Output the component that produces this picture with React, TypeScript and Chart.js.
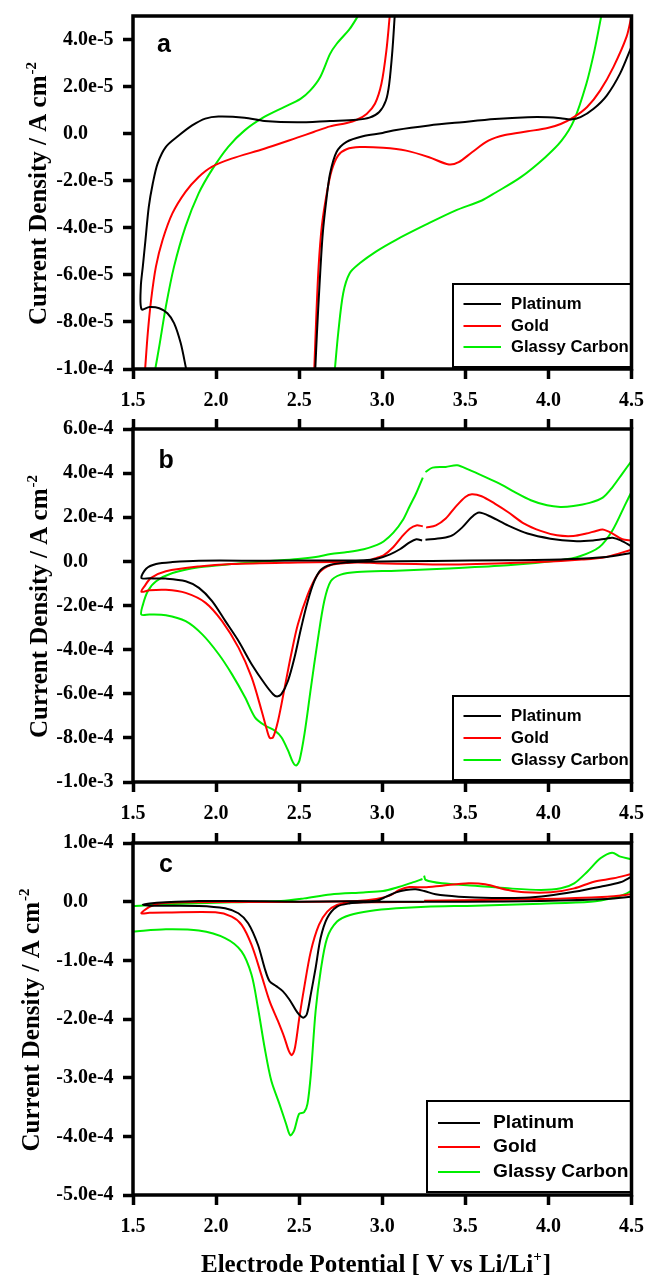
import React, { useEffect, useRef } from 'react';
import { Chart, registerables } from 'chart.js';

Chart.register(...registerables);

// ---------- shared ----------
const SERIES_NAMES = ['Platinum', 'Gold', 'Glassy Carbon'];
const SERIES_COLORS = ['#000000', '#ff0000', '#00ee00'];

const X_TICKS = [1.5, 2.0, 2.5, 3.0, 3.5, 4.0, 4.5];

const Y_TICKS_A = [-1e-4, -8e-5, -6e-5, -4e-5, -2e-5, 0, 2e-5, 4e-5];
const Y_LABELS_A = ['-1.0e-4', '-8.0e-5', '-6.0e-5', '-4.0e-5', '-2.0e-5', '0.0', '2.0e-5', '4.0e-5'];
const Y_TICKS_B = [-1e-3, -8e-4, -6e-4, -4e-4, -2e-4, 0, 2e-4, 4e-4, 6e-4];
const Y_LABELS_B = ['-1.0e-3', '-8.0e-4', '-6.0e-4', '-4.0e-4', '-2.0e-4', '0.0', '2.0e-4', '4.0e-4', '6.0e-4'];
const Y_TICKS_C = [-5e-4, -4e-4, -3e-4, -2e-4, -1e-4, 0, 1e-4];
const Y_LABELS_C = ['-5.0e-4', '-4.0e-4', '-3.0e-4', '-2.0e-4', '-1.0e-4', '0.0', '1.0e-4'];

// ---------- panel a (current in 1e-5 A cm^-2; null = break in trace) ----------
const A_PT_V = [3.075, 3.061, 3.042, 3.022, 2.982, 2.923, 2.844, 2.686, 2.488, 2.29, 2.172, 2.014, 1.935, 1.856, 1.777, 1.698, 1.648, 1.619, 1.595, 1.575, 1.559, 1.547, 1.551, 1.599, 1.658, 1.707, 1.747, 1.787, 1.82, null, 2.597, 2.607, 2.623, 2.642, 2.666, 2.686, 2.725, 2.785, 2.883, 3.002, 3.084, 3.282, 3.48, 3.678, 3.876, 3.995, 4.074, 4.134, 4.193, 4.272, 4.351, 4.431, 4.5];
const A_PT_J = [5.0, 3.53, 2.12, 1.41, 0.92, 0.68, 0.59, 0.54, 0.48, 0.54, 0.68, 0.73, 0.64, 0.35, -0.07, -0.56, -1.27, -2.12, -3.11, -4.52, -5.65, -6.5, -7.46, -7.37, -7.42, -7.63, -8.05, -8.9, -10.0, null, -10.0, -8.47, -6.36, -4.24, -2.68, -1.69, -0.78, -0.35, -0.11, 0.03, 0.16, 0.35, 0.49, 0.62, 0.7, 0.7, 0.66, 0.6, 0.7, 1.06, 1.62, 2.55, 3.7];

const A_AU_V = [3.045, 3.025, 2.995, 2.956, 2.906, 2.847, 2.787, 2.686, 2.587, 2.488, 2.29, 2.093, 1.974, 1.895, 1.816, 1.737, 1.678, 1.638, 1.609, 1.589, 1.573, null, 2.591, 2.603, 2.617, 2.636, 2.666, 2.696, 2.735, 2.785, 2.864, 3.005, 3.144, 3.282, 3.401, 3.46, 3.54, 3.639, 3.738, 3.876, 3.995, 4.074, 4.153, 4.233, 4.312, 4.391, 4.47, 4.5];
const A_AU_J = [5.0, 3.54, 2.12, 1.27, 0.84, 0.59, 0.45, 0.31, 0.07, -0.17, -0.64, -1.06, -1.41, -1.84, -2.47, -3.39, -4.52, -5.65, -7.06, -8.47, -10.0, null, -10.0, -7.77, -5.65, -3.95, -2.54, -1.55, -0.92, -0.66, -0.57, -0.6, -0.72, -1.0, -1.31, -1.21, -0.79, -0.3, -0.06, 0.1, 0.24, 0.41, 0.7, 1.13, 1.84, 2.83, 4.11, 5.0];

const A_GC_V = [2.854, 2.804, 2.725, 2.686, 2.626, 2.567, 2.508, 2.409, 2.29, 2.172, 2.073, 1.974, 1.895, 1.816, 1.747, 1.698, 1.658, 1.634, null, 2.715, 2.735, 2.765, 2.804, 2.864, 2.962, 3.081, 3.259, 3.436, 3.599, 3.683, 3.832, 3.98, 4.079, 4.153, 4.228, 4.277, 4.318];
const A_GC_J = [5.0, 4.45, 3.81, 3.39, 2.4, 1.84, 1.48, 1.13, 0.71, 0.14, -0.56, -1.55, -2.54, -3.95, -5.65, -7.34, -9.04, -10.0, null, -10.0, -8.47, -6.78, -5.93, -5.51, -5.01, -4.52, -3.88, -3.28, -2.84, -2.5, -1.86, -1.01, -0.3, 0.55, 2.11, 3.53, 5.0];

// ---------- panel b (current in 1e-4 A cm^-2) ----------
const B_PT_V = [3.24, 3.205, 3.165, 3.106, 3.047, 2.969, 2.889, 2.69, 2.294, 1.897, 1.738, 1.639, 1.579, 1.55, 1.599, 1.698, 1.817, 1.897, 1.976, 2.056, 2.135, 2.214, 2.294, 2.343, 2.367, 2.393, 2.433, 2.472, 2.512, 2.552, 2.591, 2.631, 2.69, 2.79, 2.889, 3.3, 3.756, 4.1, 4.35, 4.5, null, 3.26, 3.362, 3.421, 3.48, 3.539, 3.583, 3.657, 3.756, 3.874, 4.012, 4.15, 4.268, 4.346, 4.386, 4.435, 4.5];
const B_PT_J = [0.95, 1.0, 0.86, 0.55, 0.32, 0.12, 0.05, 0.04, 0.03, 0.03, -0.03, -0.12, -0.33, -0.75, -0.77, -0.78, -0.9, -1.2, -1.8, -2.71, -3.61, -4.66, -5.56, -6.02, -6.12, -6.02, -5.41, -4.36, -3.01, -1.8, -0.9, -0.38, -0.15, -0.05, -0.02, 0.02, 0.05, 0.1, 0.2, 0.38, null, 0.98, 1.06, 1.18, 1.53, 2.01, 2.21, 2.01, 1.63, 1.26, 1.03, 0.92, 0.95, 1.03, 1.07, 0.95, 0.68];

const B_AU_V = [3.244, 3.205, 3.165, 3.116, 3.067, 3.008, 2.969, 2.9, 2.7, 2.492, 2.095, 1.897, 1.698, 1.609, 1.569, 1.55, 1.599, 1.698, 1.817, 1.937, 2.036, 2.135, 2.214, 2.274, 2.304, 2.323, 2.343, 2.373, 2.413, 2.452, 2.492, 2.552, 2.611, 2.671, 2.73, 2.849, 2.969, 3.2, 3.461, 3.953, 4.2, 4.346, 4.5, null, 3.264, 3.323, 3.382, 3.441, 3.5, 3.539, 3.598, 3.677, 3.756, 3.854, 3.953, 4.051, 4.15, 4.228, 4.287, 4.327, 4.386, 4.445, 4.5];
const B_AU_J = [1.59, 1.63, 1.48, 1.1, 0.65, 0.27, 0.17, 0.02, -0.03, -0.05, -0.12, -0.23, -0.45, -0.75, -1.13, -1.38, -1.31, -1.29, -1.43, -1.88, -2.71, -3.91, -5.26, -6.77, -7.59, -8.0, -7.97, -7.22, -5.71, -4.21, -2.86, -1.5, -0.6, -0.23, -0.11, -0.05, -0.08, -0.12, -0.14, -0.03, 0.08, 0.2, 0.53, null, 1.53, 1.63, 1.94, 2.47, 2.92, 3.04, 2.95, 2.62, 2.24, 1.71, 1.38, 1.18, 1.15, 1.26, 1.38, 1.44, 1.26, 1.0, 0.95];

const B_GC_V = [3.244, 3.205, 3.165, 3.126, 3.067, 3.008, 2.969, 2.889, 2.79, 2.69, 2.6, 2.492, 2.294, 2.095, 1.897, 1.738, 1.639, 1.589, 1.56, 1.55, 1.599, 1.698, 1.817, 1.917, 2.016, 2.095, 2.175, 2.234, 2.294, 2.353, 2.393, 2.433, 2.462, 2.482, 2.502, 2.532, 2.571, 2.611, 2.651, 2.69, 2.75, 2.849, 3.087, 3.362, 3.756, 4.071, 4.189, 4.307, 4.386, 4.465, 4.5, null, 3.26, 3.303, 3.382, 3.451, 3.52, 3.618, 3.717, 3.795, 3.894, 3.992, 4.071, 4.15, 4.248, 4.327, 4.386, 4.445, 4.5];
const B_GC_J = [3.8, 3.1, 2.5, 1.9, 1.3, 0.9, 0.75, 0.55, 0.42, 0.33, 0.2, 0.11, 0.0, -0.12, -0.27, -0.53, -0.9, -1.35, -1.95, -2.41, -2.41, -2.44, -2.71, -3.31, -4.21, -5.11, -6.17, -7.07, -7.44, -7.67, -7.97, -8.57, -9.1, -9.25, -9.02, -7.82, -5.71, -3.61, -1.8, -0.9, -0.6, -0.48, -0.42, -0.33, -0.18, 0.05, 0.23, 0.65, 1.41, 2.62, 3.15, null, 4.05, 4.25, 4.28, 4.36, 4.16, 3.83, 3.48, 3.15, 2.77, 2.54, 2.47, 2.51, 2.65, 2.89, 3.37, 3.98, 4.55];

// ---------- panel c (current in 1e-5 A cm^-2) ----------
const C_PT_V = [4.5, 4.433, 4.313, 4.155, 3.996, 3.857, 3.659, 3.46, 3.321, 3.252, 3.202, 3.143, 3.083, 3.024, 2.964, 2.8, 2.49, 2.094, 1.896, 1.698, 1.6, 1.559, 1.6, 1.896, 2.054, 2.134, 2.193, 2.252, 2.292, 2.322, 2.362, 2.401, 2.441, 2.49, 2.524, 2.546, 2.57, 2.599, 2.629, 2.668, 2.728, 2.807, 2.886, 2.964, 3.5, 3.956, 4.353, 4.5];
const C_PT_J = [4.26, 3.3, 2.56, 1.7, 1.02, 0.68, 0.63, 0.85, 1.25, 1.82, 2.1, 1.99, 1.59, 0.85, 0.17, 0.05, 0.0, 0.11, 0.11, -0.11, -0.3, -0.5, -0.68, -0.73, -1.13, -1.98, -3.67, -7.34, -11.3, -13.56, -14.4, -15.25, -16.67, -18.93, -19.77, -19.2, -15.8, -11.3, -6.21, -2.82, -0.85, -0.28, -0.11, 0.0, 0.0, 0.11, 0.45, 0.85];

const C_AU_V = [4.5, 4.393, 4.274, 4.155, 4.016, 3.857, 3.758, 3.619, 3.52, 3.361, 3.252, 3.163, 3.103, 3.044, 2.964, 2.85, 2.6, 2.2, 1.8, 1.658, 1.599, 1.55, 1.6, 1.698, 1.996, 2.094, 2.154, 2.213, 2.272, 2.322, 2.372, 2.411, 2.437, 2.455, 2.475, 2.501, 2.53, 2.57, 2.619, 2.669, 2.728, 2.807, 2.964, 3.25, null, 3.252, 3.956, 4.353, 4.5];
const C_AU_J = [4.72, 3.98, 3.41, 2.27, 1.59, 1.59, 1.99, 2.95, 3.13, 2.73, 2.44, 2.5, 1.99, 1.02, 0.45, 0.1, -0.03, -0.05, -0.08, -0.3, -0.9, -1.98, -1.9, -1.86, -1.81, -2.54, -3.95, -7.34, -12.43, -16.95, -20.34, -23.16, -25.4, -26.16, -24.86, -19.77, -14.69, -8.47, -3.95, -1.69, -0.56, -0.17, -0.11, -0.05, null, 0.17, 0.45, 0.85, 1.25];

const C_GC_V = [1.5, 1.698, 2.094, 2.391, 2.53, 2.688, 2.886, 3.005, 3.084, 3.183, 3.242, null, 3.252, 3.262, 3.361, 3.56, 3.758, 3.956, 4.075, 4.155, 4.234, 4.313, 4.383, 4.433, 4.5, null, 1.5, 1.698, 1.896, 2.054, 2.153, 2.213, 2.252, 2.292, 2.332, 2.381, 2.421, 2.446, 2.47, 2.5, 2.53, 2.55, 2.57, 2.599, 2.629, 2.668, 2.728, 2.807, 2.926, 3.084, 3.262, 3.56, 3.956, 4.254, 4.393, 4.472, 4.5];
const C_GC_J = [-0.73, -0.45, -0.11, 0.11, 0.56, 1.24, 1.58, 1.81, 2.37, 3.28, 3.86, null, 4.43, 3.69, 3.13, 2.73, 2.27, 1.99, 2.27, 3.13, 5.11, 7.39, 8.35, 7.67, 7.22, null, -5.08, -4.69, -4.92, -6.21, -8.47, -12.43, -18.08, -24.86, -30.5, -34.46, -37.85, -39.83, -38.98, -36.16, -35.88, -34.46, -29.5, -18.64, -11.86, -6.21, -3.39, -2.26, -1.58, -1.13, -0.85, -0.68, -0.34, 0.0, 0.68, 1.42, 1.88];

// ---------- layout constants ----------
const PAGE_W = 654;
const CHART_LEFT = 133;
const CHART_RIGHT = 638.5;
const TICK_LEN = 10;
const Y_LABEL_LEFT = 63;
const SERIF = '"Liberation Serif", "Times New Roman", Times, serif';
const SANS = '"Liberation Sans", Arial, Helvetica, sans-serif';

const PANELS = [
  {
    letter: 'a', letterX: 157, letterY: 51.5,
    canvasTop: 0, canvasHeight: 420, chartTop: 16, chartBottom: 369,
    yMin: -1e-4, yMax: 5e-5, yTicks: Y_TICKS_A, yLabels: Y_LABELS_A, unit: 1e-5,
    series: [[A_PT_V, A_PT_J], [A_AU_V, A_AU_J], [A_GC_V, A_GC_J]],
    topTicks: false, yTitleX: 46,
    legend: { left: 453, top: 284, bottom: 367, rows: [20, 42, 63], lineX0: 463.5, lineX1: 501, textX: 511, fontSize: 16.7 },
    xTitle: false,
  },
  {
    letter: 'b', letterX: 158.5, letterY: 468,
    canvasTop: 412, canvasHeight: 418, chartTop: 429, chartBottom: 782,
    yMin: -1e-3, yMax: 6e-4, yTicks: Y_TICKS_B, yLabels: Y_LABELS_B, unit: 1e-4,
    series: [[B_PT_V, B_PT_J], [B_AU_V, B_AU_J], [B_GC_V, B_GC_J]],
    topTicks: true, yTitleX: 46.5,
    legend: { left: 453, top: 696, bottom: 780, rows: [20, 42, 64], lineX0: 463.5, lineX1: 501, textX: 511, fontSize: 16.7 },
    xTitle: false,
  },
  {
    letter: 'c', letterX: 159, letterY: 871.5,
    canvasTop: 830, canvasHeight: 446, chartTop: 843, chartBottom: 1195,
    yMin: -5e-4, yMax: 1e-4, yTicks: Y_TICKS_C, yLabels: Y_LABELS_C, unit: 1e-5,
    series: [[C_PT_V, C_PT_J], [C_AU_V, C_AU_J], [C_GC_V, C_GC_J]],
    topTicks: true, yTitleX: 39,
    legend: { left: 427, top: 1101, bottom: 1192, rows: [22, 46, 71], lineX0: 438, lineX1: 480, textX: 493, fontSize: 19.2 },
    xTitle: true,
  },
];

function toPoints(v: (number | null)[], j: (number | null)[], unit: number) {
  const pts: any[] = [];
  let lastX = 1.5;
  for (let i = 0; i < v.length; i++) {
    const xv = v[i];
    const yv = j[i];
    if (xv === null || yv === null) {
      pts.push({ x: lastX, y: null });
    } else {
      lastX = xv;
      pts.push({ x: xv, y: yv * unit });
    }
  }
  return pts;
}

function makeDecor(p: any) {
  return {
    id: 'decor_' + p.letter,
    afterDraw(chart: any) {
      const { ctx, chartArea: ca } = chart;
      const off = p.canvasTop;
      ctx.save();

      // legend
      const L = p.legend;
      const lt = L.top - off;
      const lb = L.bottom - off;
      ctx.fillStyle = '#ffffff';
      ctx.fillRect(L.left, lt, ca.right - L.left, lb - lt);
      ctx.lineWidth = 2;
      ctx.strokeStyle = '#000';
      ctx.strokeRect(L.left, lt, ca.right - L.left, lb - lt);
      ctx.font = `bold ${L.fontSize}px ${SANS}`;
      ctx.textAlign = 'left';
      ctx.textBaseline = 'middle';
      chart.data.datasets.forEach((ds: any, i: number) => {
        const y = lt + L.rows[i];
        ctx.strokeStyle = ds.borderColor;
        ctx.lineWidth = 2;
        ctx.beginPath();
        ctx.moveTo(L.lineX0, y);
        ctx.lineTo(L.lineX1, y);
        ctx.stroke();
        ctx.fillStyle = '#000';
        ctx.fillText(ds.label, L.textX, y);
      });

      // frame
      ctx.lineWidth = 3.5;
      ctx.strokeStyle = '#000';
      ctx.strokeRect(ca.left, ca.top, ca.right - ca.left, ca.bottom - ca.top);

      // panel letter
      ctx.fillStyle = '#000';
      ctx.font = `bold 25px ${SANS}`;
      ctx.textBaseline = 'alphabetic';
      ctx.textAlign = 'left';
      ctx.fillText(p.letter, p.letterX, p.letterY - off);

      // y tick labels (aligned on the mantissa, sign hanging left)
      ctx.font = `bold 20px ${SERIF}`;
      ctx.textBaseline = 'middle';
      const minusW = ctx.measureText('-').width;
      const ys = chart.scales.y;
      p.yTicks.forEach((v: number, i: number) => {
        const lab = p.yLabels[i];
        const x = Y_LABEL_LEFT - (lab.charAt(0) === '-' ? minusW : 0);
        ctx.fillText(lab, x, ys.getPixelForValue(v));
      });

      // y axis title with superscript
      ctx.save();
      ctx.translate(p.yTitleX, (ca.top + ca.bottom) / 2 + 1);
      ctx.rotate(-Math.PI / 2);
      ctx.textBaseline = 'alphabetic';
      ctx.textAlign = 'left';
      const mainT = 'Current Density / A cm';
      const supT = '-2';
      ctx.font = `bold 25px ${SERIF}`;
      const mw = ctx.measureText(mainT).width;
      ctx.font = `bold 15px ${SERIF}`;
      const sw = ctx.measureText(supT).width;
      const x0 = -(mw + sw + 1) / 2;
      ctx.font = `bold 25px ${SERIF}`;
      ctx.fillText(mainT, x0, 0);
      ctx.font = `bold 15px ${SERIF}`;
      ctx.fillText(supT, x0 + mw + 1, -10);
      ctx.restore();

      // x axis title
      if (p.xTitle) {
        const t1 = 'Electrode Potential [ V vs Li/Li';
        const t2 = '+';
        const t3 = ']';
        ctx.textBaseline = 'alphabetic';
        ctx.textAlign = 'left';
        ctx.font = `bold 25px ${SERIF}`;
        const w1 = ctx.measureText(t1).width;
        const w3 = ctx.measureText(t3).width;
        ctx.font = `bold 15px ${SERIF}`;
        const w2 = ctx.measureText(t2).width;
        const total = w1 + w2 + w3 + 1;
        let x = 376 - total / 2;
        const base = 1272 - off;
        ctx.font = `bold 25px ${SERIF}`;
        ctx.fillText(t1, x, base);
        x += w1;
        ctx.font = `bold 15px ${SERIF}`;
        ctx.fillText(t2, x, base - 11);
        x += w2 + 1;
        ctx.font = `bold 25px ${SERIF}`;
        ctx.fillText(t3, x, base);
      }

      ctx.restore();
    },
  };
}

function buildConfig(p: any) {
  const datasets = p.series.map((s: any, i: number) => ({
    label: SERIES_NAMES[i],
    data: toPoints(s[0], s[1], p.unit),
    borderColor: SERIES_COLORS[i],
    backgroundColor: SERIES_COLORS[i],
    borderWidth: 2,
    showLine: true,
    pointRadius: 0,
    pointHoverRadius: 0,
    tension: 0.3,
    spanGaps: false,
    fill: false,
    clip: 0,
  }));

  const tickGrid = {
    display: true,
    drawOnChartArea: false,
    drawTicks: true,
    tickLength: TICK_LEN,
    tickWidth: 3.5,
    tickColor: '#000',
  };

  const scales: any = {
    x: {
      type: 'linear',
      position: 'bottom',
      min: 1.5,
      max: 4.5,
      afterBuildTicks: (sc: any) => { sc.ticks = X_TICKS.map((v) => ({ value: v })); },
      afterFit: (sc: any) => { sc.height = p.canvasTop + p.canvasHeight - p.chartBottom; },
      grid: tickGrid,
      border: { display: false },
      ticks: {
        color: '#000',
        font: { family: SERIF, weight: 'bold', size: 20 },
        padding: 10,
        maxRotation: 0,
        minRotation: 0,
        autoSkip: false,
        callback: (v: any) => Number(v).toFixed(1),
      },
    },
    y: {
      type: 'linear',
      position: 'left',
      min: p.yMin,
      max: p.yMax,
      afterBuildTicks: (sc: any) => { sc.ticks = p.yTicks.map((v: number) => ({ value: v })); },
      afterFit: (sc: any) => { sc.width = CHART_LEFT; },
      grid: tickGrid,
      border: { display: false },
      ticks: { display: false },
    },
  };

  if (p.topTicks) {
    scales.x2 = {
      type: 'linear',
      position: 'top',
      min: 1.5,
      max: 4.5,
      afterBuildTicks: (sc: any) => { sc.ticks = X_TICKS.map((v) => ({ value: v })); },
      afterFit: (sc: any) => { sc.height = TICK_LEN; },
      grid: tickGrid,
      border: { display: false },
      ticks: { display: false },
    };
  }

  return {
    type: 'scatter',
    data: { datasets },
    options: {
      responsive: false,
      maintainAspectRatio: false,
      animation: false,
      devicePixelRatio: 1,
      events: [],
      layout: {
        padding: {
          top: p.chartTop - p.canvasTop - (p.topTicks ? TICK_LEN : 0),
          right: PAGE_W - CHART_RIGHT,
          bottom: 0,
          left: 0,
        },
      },
      plugins: {
        legend: { display: false },
        tooltip: { enabled: false },
        title: { display: false },
      },
      scales,
    },
    plugins: [makeDecor(p)],
  };
}

function Panel({ p }: { p: any }) {
  const ref = useRef<HTMLCanvasElement | null>(null);
  useEffect(() => {
    if (!ref.current) return;
    const chart = new Chart(ref.current, buildConfig(p) as any);
    return () => chart.destroy();
  }, [p]);
  return (
    <canvas
      ref={ref}
      width={PAGE_W}
      height={p.canvasHeight}
      style={{ position: 'absolute', left: 0, top: p.canvasTop, width: PAGE_W, height: p.canvasHeight, display: 'block' }}
    />
  );
}

export default function App() {
  return (
    <div style={{ position: 'absolute', left: 0, top: 0, width: PAGE_W, height: 1276, background: '#ffffff', overflow: 'hidden' }}>
      {PANELS.map((p) => (
        <Panel key={p.letter} p={p} />
      ))}
    </div>
  );
}
